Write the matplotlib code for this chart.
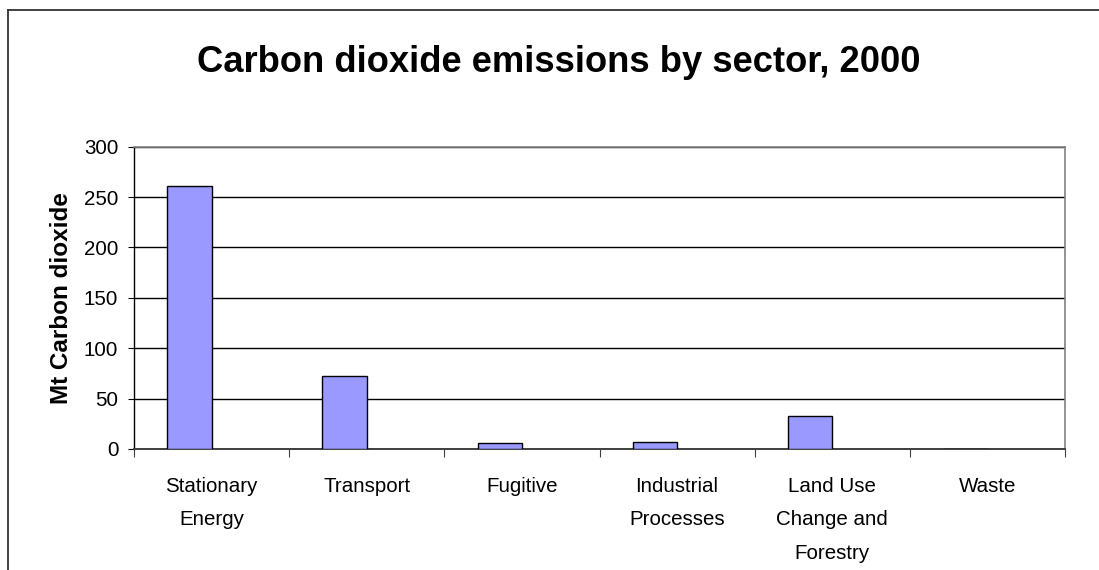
import matplotlib
matplotlib.use("Agg")
import matplotlib.pyplot as plt
from matplotlib.lines import Line2D
import numpy as np

plt.rcParams['font.family'] = ['Liberation Sans', 'DejaVu Sans']

categories = ["Stationary\nEnergy", "Transport", "Fugitive", "Industrial\nProcesses",
              "Land Use\nChange and\nForestry", "Waste"]
values = [261, 72.2, 6, 7.3, 33, 0]
yticks = [0, 50, 100, 150, 200, 250, 300]
title = "Carbon dioxide emissions by sector, 2000"
ylabel = "Mt Carbon dioxide"

W, H = 1099, 570
fig = plt.figure(figsize=(W / 100, H / 100), dpi=100)
ax = fig.add_axes([134 / W, 1 - 449 / H, (1065 - 134) / W, (449 - 146.7) / H])

x = np.arange(len(categories))
bw = 1 / 3.5
ax.bar(x - bw, values, width=bw, align='edge', color='#9999FF',
       edgecolor='black', linewidth=1.0, zorder=3)

ax.set_xlim(-0.5, len(categories) - 0.5)
ax.set_ylim(0, 300)
ax.set_yticks(yticks)
ax.set_axisbelow(True)
ax.yaxis.grid(True, color='black', linewidth=1.0)

ax.tick_params(axis='y', direction='out', length=4.3, width=0.8, color='black',
               pad=7, labelsize=14.8)
ax.set_xticks(x)
ax.set_xticklabels(categories)
ax.tick_params(axis='x', which='major', length=0, pad=20, labelsize=14.8)
for lab in ax.get_xticklabels():
    lab.set_linespacing(1.96)
    lab.set_verticalalignment('top')
ax.set_xticks(np.arange(-0.5, len(categories)), minor=True)
ax.tick_params(axis='x', which='minor', direction='out', length=5.8, width=0.8,
               color='#404040')

for s in ['top', 'right']:
    ax.spines[s].set_color('#808080')
    ax.spines[s].set_linewidth(1.2)
ax.spines['left'].set_color('black')
ax.spines['left'].set_linewidth(1.0)
ax.spines['bottom'].set_color('#404040')
ax.spines['bottom'].set_linewidth(1.4)

ax.set_ylabel(ylabel, fontsize=17.5, fontweight='bold', va='center')
ax.yaxis.set_label_coords((61.5 - 134) / (1065 - 134), 0.5)

fig.text(558.5 / W, 1 - 71.7 / H, title, ha='center', va='baseline',
         fontsize=26.2, fontweight='bold')

# outer chart border (top and left visible)
fig.add_artist(Line2D([7.5 / W, 7.5 / W], [0, 1 - 10 / H], transform=fig.transFigure,
                      color='#333333', linewidth=1.3))
fig.add_artist(Line2D([7.5 / W, 1], [1 - 10 / H, 1 - 10 / H], transform=fig.transFigure,
                      color='#333333', linewidth=1.3))

fig.savefig("out.png", dpi=100)
